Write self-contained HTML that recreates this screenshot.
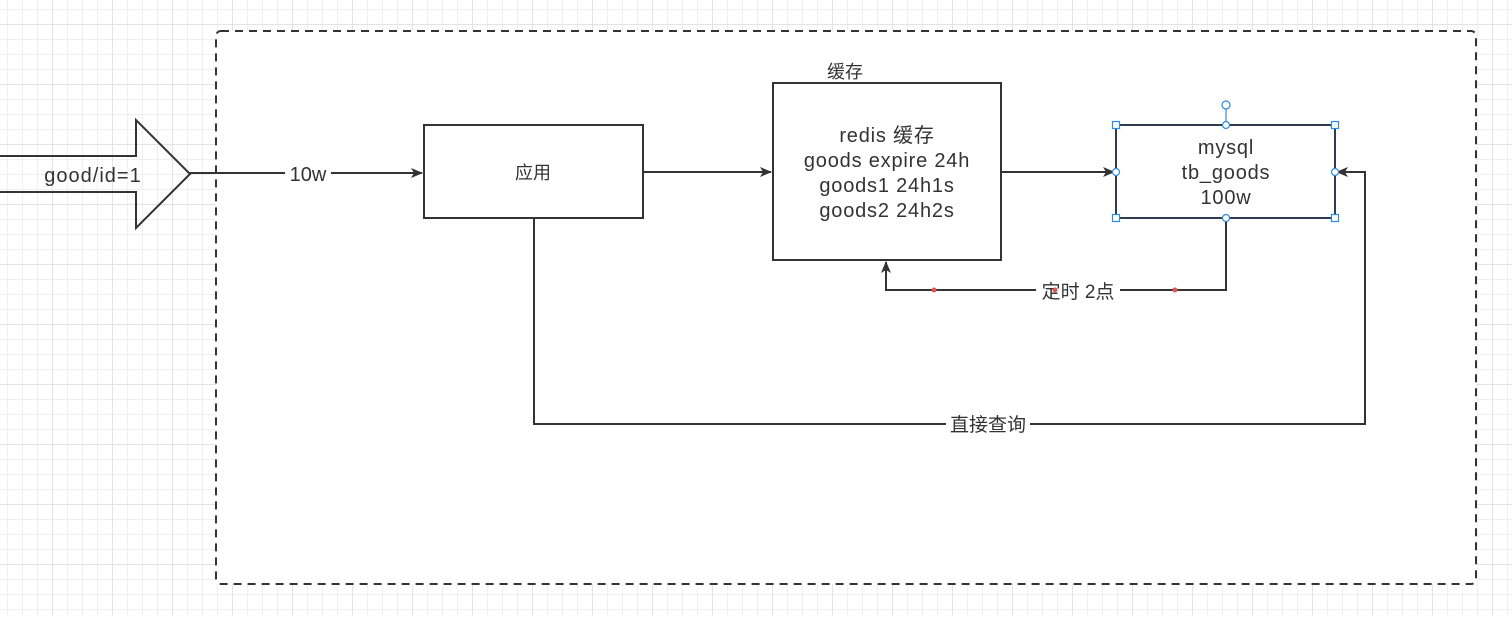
<!DOCTYPE html>
<html><head><meta charset="utf-8"><style>
html,body{margin:0;padding:0;}
body{width:1512px;height:616px;overflow:hidden;background:#fff;}
svg text{font-family:"Liberation Sans","Noto Sans CJK SC",sans-serif;fill:#333;}
</style></head><body>
<svg width="1512" height="616" viewBox="0 0 1512 616" xmlns="http://www.w3.org/2000/svg">
<defs>
<pattern id="g" x="7" y="9" width="15" height="15" patternUnits="userSpaceOnUse">
<path d="M0 0H15M0 0V15" stroke="#ebebeb" stroke-width="1.5" fill="none"/>
</pattern>
<pattern id="G" x="52" y="24" width="60" height="60" patternUnits="userSpaceOnUse">
<path d="M0 0H60M0 0V60" stroke="#dedede" stroke-width="1.5" fill="none"/>
</pattern>
<marker id="a" markerWidth="12" markerHeight="10" refX="11" refY="5" orient="auto" markerUnits="userSpaceOnUse">
<path d="M0 0L12 5L0 10L3 5Z" fill="#333"/>
</marker>
</defs>
<rect width="1512" height="616" fill="url(#g)"/>
<rect width="1512" height="616" fill="url(#G)"/>
<rect x="216" y="31" width="1260" height="553" rx="5" fill="#fff" stroke="#333" stroke-width="2" stroke-dasharray="8,6"/>
<path d="M-2 156H136V120L190 174L136 228V192H-2" fill="none" stroke="#333" stroke-width="2"/>
<text x="93" y="182" font-size="20" letter-spacing="1" text-anchor="middle">good/id=1</text>
<path d="M190 173H422" stroke="#333" stroke-width="2" fill="none" marker-end="url(#a)"/>
<rect x="285" y="160" width="46" height="26" fill="#fff"/>
<text x="308" y="181" font-size="20" text-anchor="middle">10w</text>
<rect x="424" y="125" width="219" height="93" fill="#fff" stroke="#333" stroke-width="2"/>
<text x="533" y="179" font-size="18" text-anchor="middle">应用</text>
<path d="M643 172H771" stroke="#333" stroke-width="2" fill="none" marker-end="url(#a)"/>
<text x="845" y="78" font-size="18" text-anchor="middle">缓存</text>
<rect x="773" y="83" width="228" height="177" fill="#fff" stroke="#333" stroke-width="2"/>
<g font-size="20" letter-spacing="0.8" text-anchor="middle">
<text x="887" y="142">redis 缓存</text>
<text x="887" y="167">goods expire 24h</text>
<text x="887" y="192">goods1 24h1s</text>
<text x="887" y="217">goods2 24h2s</text>
</g>
<path d="M1001 172H1114" stroke="#333" stroke-width="2" fill="none" marker-end="url(#a)"/>
<rect x="1116" y="125" width="219" height="93" fill="#fff" stroke="#333" stroke-width="2"/>
<path d="M1116 125H1335V218H1116Z" fill="none" stroke="#1e5aa0" stroke-width="1" opacity="0.5"/>
<g font-size="20" letter-spacing="0.8" text-anchor="middle">
<text x="1226" y="154">mysql</text>
<text x="1226" y="179">tb_goods</text>
<text x="1226" y="204">100w</text>
</g>
<path d="M1226 218V290H886V262" stroke="#333" stroke-width="2" fill="none" marker-end="url(#a)"/>
<rect x="1036" y="279" width="84" height="24" fill="#fff"/>
<text x="1078" y="298" font-size="19" text-anchor="middle">定时 2点</text>
<circle cx="934" cy="290" r="2.5" fill="#e05555"/>
<circle cx="1175" cy="290" r="2.5" fill="#e05555"/>
<circle cx="1055" cy="290" r="2.5" fill="#e05555"/>
<path d="M534 218V424H1365V172H1337" stroke="#333" stroke-width="2" fill="none" marker-end="url(#a)"/>
<rect x="946" y="412" width="84" height="24" fill="#fff"/>
<text x="988" y="431" font-size="19" text-anchor="middle">直接查询</text>
<g fill="#fff" stroke="#2a8be8" stroke-width="1.2">
<line x1="1226" y1="109" x2="1226" y2="125"/>
<circle cx="1226" cy="105" r="4"/>
<rect x="1112.5" y="121.5" width="7" height="7"/>
<rect x="1331.5" y="121.5" width="7" height="7"/>
<rect x="1112.5" y="214.5" width="7" height="7"/>
<rect x="1331.5" y="214.5" width="7" height="7"/>
<circle cx="1226" cy="125" r="3.5"/>
<circle cx="1226" cy="218" r="3.5"/>
<circle cx="1116" cy="172" r="3.5"/>
<circle cx="1335" cy="172" r="3.5"/>
</g>
</svg>
</body></html>
